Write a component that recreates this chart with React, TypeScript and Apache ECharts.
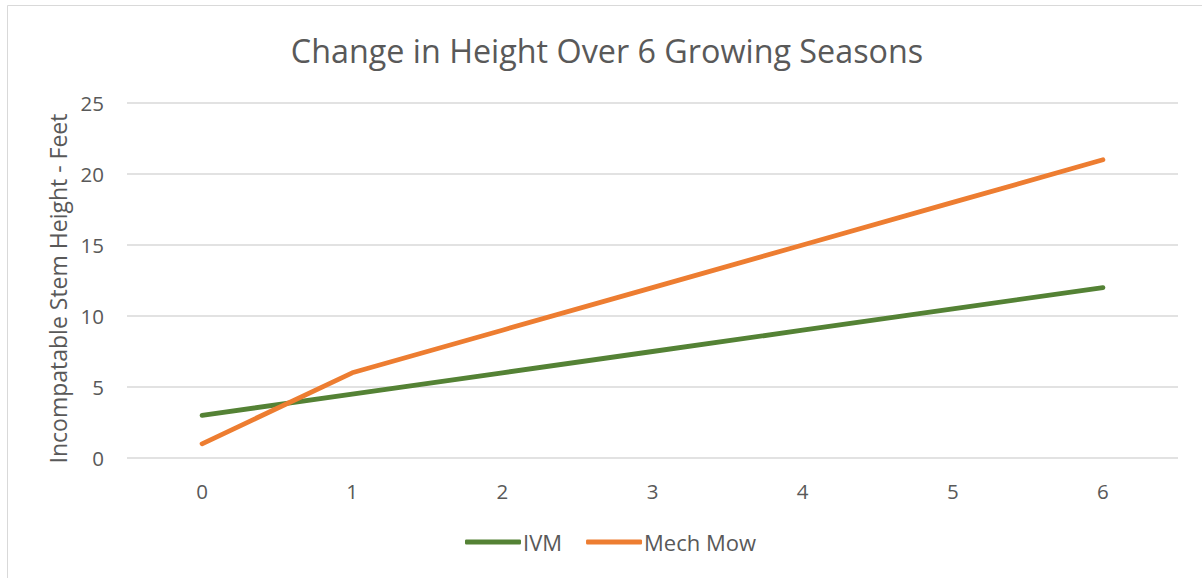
import React, { useEffect, useRef } from "react";
import * as echarts from "echarts";

const categories = ["0", "1", "2", "3", "4", "5", "6"];
const ivm = [3, 4.5, 6, 7.5, 9, 10.5, 12];
const mechMow = [1, 6, 9, 12, 15, 18, 21];

const FONT = "'Open Sans', 'Noto Sans', sans-serif";
const TEXT = "#595959";

export default function App() {
  const ref = useRef<HTMLDivElement>(null);
  useEffect(() => {
    if (!ref.current) return;
    const chart = echarts.init(ref.current, undefined, { renderer: "svg" });
    chart.setOption({
      animation: false,
      backgroundColor: "#ffffff",
      textStyle: { fontFamily: FONT },
      graphic: [
        {
          type: "rect",
          shape: { x: 7.5, y: 5.5, width: 1300, height: 700 },
          style: { fill: "none", stroke: "#d9d9d9", lineWidth: 1 },
          silent: true,
        },
      ],
      title: {
        text: "Change in Height Over 6 Growing Seasons",
        left: 602,
        textAlign: "center",
        top: 29,
        textStyle: { fontFamily: FONT, fontSize: 32.3, fontWeight: "normal", color: TEXT },
      },
      legend: {
        bottom: 20,
        left: 460,
        itemWidth: 56,
        itemHeight: 5,
        itemGap: 24,
        icon: "roundRect",
        textStyle: { fontFamily: FONT, fontSize: 22, color: TEXT, padding: [0, 0, 0, -3] },
        data: ["IVM", "Mech Mow"],
      },
      grid: { left: 127, right: 24, top: 103, bottom: 120, containLabel: false },
      xAxis: {
        type: "category",
        data: categories,
        boundaryGap: true,
        axisLine: { show: false },
        axisTick: { show: false },
        axisLabel: { color: TEXT, fontSize: 20.5, fontFamily: FONT, margin: 22 },
      },
      yAxis: {
        type: "value",
        min: 0,
        max: 25,
        interval: 5,
        name: "Incompatable Stem Height - Feet",
        nameLocation: "middle",
        nameGap: 58,
        nameRotate: 90,
        nameTextStyle: { color: TEXT, fontSize: 23, fontFamily: FONT, padding: [0, 16, 0, 0] },
        axisLine: { show: false },
        axisTick: { show: false },
        axisLabel: { color: TEXT, fontSize: 20.5, fontFamily: FONT, margin: 23 },
        splitLine: { lineStyle: { color: "#d9d9d9", width: 1.5 } },
      },
      series: [
        {
          name: "IVM",
          type: "line",
          data: ivm,
          symbol: "none",
          color: "#548235",
          lineStyle: { width: 4.8, color: "#548235", cap: "round", join: "round" },
        },
        {
          name: "Mech Mow",
          type: "line",
          data: mechMow,
          symbol: "none",
          color: "#ED7D31",
          lineStyle: { width: 4.8, color: "#ED7D31", cap: "round", join: "round" },
        },
      ],
    });
    return () => chart.dispose();
  }, []);
  return (
    <div
      ref={ref}
      style={{ position: "absolute", left: 0, top: 0, width: 1202, height: 578 }}
    />
  );
}
